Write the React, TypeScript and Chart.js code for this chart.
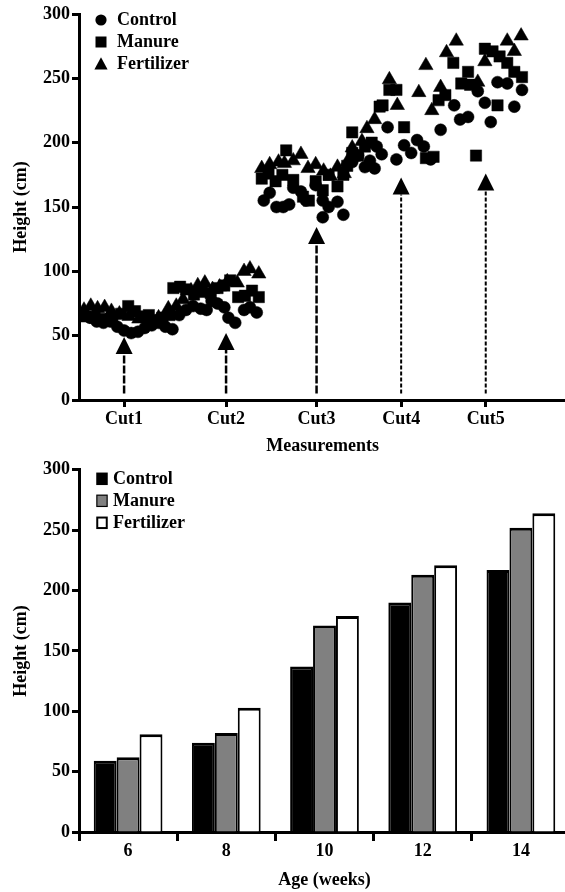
import React, { useEffect, useRef } from 'react';
import { Chart, registerables } from 'chart.js';

Chart.register(...registerables);

const FONT = "'Liberation Serif', 'Times New Roman', serif";

// ---------- Top chart data ----------
const cutLabels = ['Cut1', 'Cut2', 'Cut3', 'Cut4', 'Cut5'];
const cutPositions = [15.3, 49.9, 80.6, 109.3, 138];
const arrowTips = [49, 52, 134.5, 173, 176];
const arrowStart = 5;

const controlX = [
  1.7, 3.7, 6.0, 8.3, 10.7, 13.0, 15.3, 17.7, 20.0, 22.3, 24.7, 27.0, 29.3, 31.7,
  34.0, 36.3, 38.7, 41.3, 43.3, 45.0, 47.0, 49.3, 50.7, 53.0, 56.0, 58.0, 60.3,
  62.7, 64.7, 67.0, 69.3, 71.3, 72.7, 75.3, 77.0, 80.3, 82.7, 82.7, 84.7, 87.7, 89.7,
  92.7, 94.7, 97.0, 98.7, 100.3, 101.0, 102.7, 104.7, 107.7, 110.3, 112.7, 114.7, 117.0, 119.3, 122.7,
  127.3, 129.3, 132.0, 135.3, 137.7, 139.7, 142.0, 145.3, 147.7, 150.3,
];
const controlY = [
  66, 64, 61, 60, 61, 57, 54, 52, 53, 56, 58, 60, 57, 55,
  66, 70, 73, 71, 70, 77, 75, 72, 64, 60, 70, 72, 68,
  155, 161, 150, 150, 152, 165, 162, 155, 167, 142, 155, 150, 154, 144,
  185, 190, 181, 186, 180, 197, 191, 212, 187, 198, 192, 202, 197, 187, 210,
  229, 218, 220, 240, 231, 216, 247, 246, 228, 241,
];

const manureX = [
  2.3, 5.3, 8.3, 11.3, 14.3, 16.7, 19.0, 21.3, 23.7, 26.0, 28.3, 30.7,
  32.0, 34.3, 36.3, 39.0, 41.7, 44.7, 47.0, 49.3, 51.3, 54.0, 56.3, 58.7, 61.0,
  62.0, 64.3, 66.7, 69.0, 70.3, 72.7, 76.0, 78.0, 80.3, 82.7, 84.7, 87.7, 89.7,
  91.0, 92.7, 92.7, 94.7, 97.0, 99.3, 102.0, 103.0, 105.3, 107.7, 110.3, 117.7, 120.3, 122.0, 124.3,
  127.0, 129.7, 132.0, 132.7, 134.7, 137.7, 140.3, 142.0, 142.7, 145.3, 147.7, 150.3,
];
const manureY = [
  65, 64, 63, 65, 67, 73, 69, 65, 66, 62, 64, 66,
  87, 88, 86, 82, 84, 83, 87, 89, 93, 80, 81, 85, 80,
  172, 176, 170, 175, 194, 171, 158, 155, 170, 163, 175, 166, 175,
  182, 192, 208, 190, 197, 200, 228, 229, 241, 241, 212, 188, 189, 233, 237,
  262, 246, 255, 245, 190, 273, 271, 229, 267, 262, 255, 251,
];

const fertilizerX = [
  1.7, 4.0, 6.3, 8.7, 11.0, 13.7, 17.0, 20.3, 23.7, 27.0, 30.3,
  33.0, 35.3, 38.0, 40.3, 42.7, 45.3, 47.7, 50.3, 53.7, 56.0, 58.0, 61.0,
  62.0, 64.7, 67.7, 69.7, 72.7, 75.3, 77.7, 80.3, 83.0, 85.3, 87.7, 90.0,
  91.0, 92.7, 96.0, 97.7, 100.3, 105.3, 108.0, 115.3, 117.7, 119.7, 122.7, 124.7,
  128.0, 135.3, 137.7, 145.3, 147.7, 150.0,
];
const fertilizerY = [
  70, 73, 71, 72, 69, 67, 65, 63, 62, 64, 71,
  73, 78, 85, 89, 91, 86, 88, 92, 91, 100, 102, 98,
  180, 183, 185, 184, 186, 191, 180, 183, 178, 174, 181, 176,
  185, 196, 201, 211, 218, 249, 229, 239, 260, 225, 243, 270,
  279, 247, 263, 279, 271, 283,
];

// ---------- Bottom chart data ----------
const ages = ['6', '8', '10', '12', '14'];
const controlBars = [59, 74, 137, 190, 217];
const manureBars = [62, 82, 171, 213, 252];
const fertilizerBars = [81, 103, 179, 221, 264];

const yTicks = { min: 0, max: 300, step: 50 };

const zip = (xs: number[], ys: number[]) => xs.map((x, i) => ({ x, y: ys[i] }));

const font = { family: FONT, size: 18, weight: 'bold' as const };

const arrowPlugin = {
  id: 'cutArrows',
  afterDatasetsDraw(chart: any) {
    const { ctx, scales } = chart;
    const xs = scales.x;
    const ys = scales.y;
    ctx.save();
    ctx.strokeStyle = '#000';
    ctx.fillStyle = '#000';
    cutPositions.forEach((c, i) => {
      const px = xs.getPixelForValue(c);
      const tip = ys.getPixelForValue(arrowTips[i]);
      const start = ys.getPixelForValue(arrowStart);
      const headH = 17;
      const headW = 17;
      ctx.lineWidth = i < 3 ? 2.5 : 2;
      ctx.setLineDash(i < 3 ? [8, 2] : [4, 2]);
      ctx.beginPath();
      ctx.moveTo(px, start);
      ctx.lineTo(px, tip + headH);
      ctx.stroke();
      ctx.setLineDash([]);
      ctx.beginPath();
      ctx.moveTo(px, tip);
      ctx.lineTo(px - headW / 2, tip + headH);
      ctx.lineTo(px + headW / 2, tip + headH);
      ctx.closePath();
      ctx.fill();
    });
    ctx.restore();
  },
};

const legendPlugin = {
  id: 'manualLegend',
  afterDraw(chart: any, _args: any, opts: any) {
    if (!opts || !opts.kind) return;
    const { ctx, chartArea } = chart;
    ctx.save();
    ctx.font = `bold 18px ${FONT}`;
    ctx.textBaseline = 'middle';
    ctx.textAlign = 'left';
    chart.data.datasets.forEach((ds: any, i: number) => {
      const cy = chartArea.top + opts.top + i * opts.gap;
      const cx = chartArea.left + opts.left;
      ctx.fillStyle = '#000';
      ctx.strokeStyle = '#000';
      if (opts.kind === 'points') {
        const st = ds.pointStyle;
        ctx.beginPath();
        if (st === 'circle') {
          ctx.arc(cx, cy, 5.6, 0, Math.PI * 2);
        } else if (st === 'rect') {
          ctx.rect(cx - 5.5, cy - 5.5, 11, 11);
        } else {
          ctx.moveTo(cx, cy - 6.8);
          ctx.lineTo(cx - 6.6, cy + 5.4);
          ctx.lineTo(cx + 6.6, cy + 5.4);
          ctx.closePath();
        }
        ctx.fill();
      } else {
        const w = 11.5;
        const h = 12.5;
        ctx.fillStyle = '#000';
        ctx.fillRect(cx - w / 2, cy - h / 2, w, h);
        const inset = i === 0 ? 0 : i === 1 ? 1.2 : 2;
        if (inset > 0) {
          ctx.fillStyle = ds.backgroundColor;
          ctx.fillRect(cx - w / 2 + inset, cy - h / 2 + inset, w - 2 * inset, h - 2 * inset);
        }
      }
      ctx.fillStyle = '#000';
      ctx.fillText(ds.label, chartArea.left + opts.textLeft, cy + 0.5);
    });
    ctx.restore();
  },
};

const yAxis = (title: string) => ({
  type: 'linear' as const,
  min: yTicks.min,
  max: yTicks.max,
  ticks: { stepSize: yTicks.step, font, color: '#000', padding: 2 },
  grid: { drawOnChartArea: false, drawTicks: true, tickLength: 7, tickWidth: 3, color: '#000' },
  border: { display: true, color: '#000', width: 3 },
  title: { display: true, text: title, font, color: '#000', padding: { top: 11, bottom: 0 } },
  afterFit: (axis: any) => {
    axis.width = 79;
  },
});

export default function App() {
  const topRef = useRef<HTMLCanvasElement>(null);
  const botRef = useRef<HTMLCanvasElement>(null);

  useEffect(() => {
    document.body.style.margin = '0';
    const pointDs = (label: string, xs: number[], ys: number[], style: string, r: number) => ({
      label,
      data: zip(xs, ys),
      pointStyle: style,
      pointRadius: r,
      pointHoverRadius: r,
      pointBackgroundColor: '#000',
      pointBorderColor: '#000',
      pointBorderWidth: 0.5,
      showLine: false,
    });

    const top = new Chart(topRef.current as HTMLCanvasElement, {
      type: 'scatter',
      data: {
        datasets: [
          pointDs('Control', controlX, controlY, 'circle', 6),
          pointDs('Manure', manureX, manureY, 'rect', 8),
          pointDs('Fertilizer', fertilizerX, fertilizerY, 'triangle', 8.3),
        ] as any,
      },
      options: {
        responsive: false,
        animation: false,
        devicePixelRatio: 1,
        layout: { padding: { top: 14, left: 0, right: 0, bottom: 0 } },
        plugins: {
          legend: { display: false },
          tooltip: { enabled: false },
          manualLegend: { kind: 'points', left: 22, top: 6, gap: 22, textLeft: 38 },
        } as any,
        scales: {
          x: {
            type: 'linear',
            min: 0,
            max: 165.3,
            afterBuildTicks: (axis: any) => {
              axis.ticks = cutPositions.map((v) => ({ value: v }));
            },
            ticks: {
              callback: (_v: any, i: number) => cutLabels[i],
              font,
              color: '#000',
              padding: 2,
              maxRotation: 0,
              autoSkip: false,
            },
            grid: { drawOnChartArea: false, drawTicks: true, tickLength: 7, tickWidth: 3, color: '#000' },
            border: { display: true, color: '#000', width: 3 },
            title: { display: true, text: 'Measurements', font, color: '#000', padding: { top: 0, bottom: 0 } },
            afterFit: (axis: any) => {
              axis.height = 57;
            },
          },
          y: yAxis('Height (cm)'),
        } as any,
      },
      plugins: [arrowPlugin, legendPlugin],
    });

    const barDs = (label: string, data: number[], color: string) => ({
      label,
      data,
      backgroundColor: color,
      borderColor: '#000',
      borderWidth: { top: 3, left: 2, right: 2, bottom: 0 },
      categoryPercentage: 0.7,
      barPercentage: 1.0,
    });

    const bottom = new Chart(botRef.current as HTMLCanvasElement, {
      type: 'bar',
      data: {
        labels: ages,
        datasets: [
          barDs('Control', controlBars, '#000000'),
          barDs('Manure', manureBars, '#808080'),
          barDs('Fertilizer', fertilizerBars, '#ffffff'),
        ] as any,
      },
      options: {
        responsive: false,
        animation: false,
        devicePixelRatio: 1,
        layout: { padding: { top: 11, left: 0, right: 0, bottom: 0 } },
        plugins: {
          legend: { display: false },
          tooltip: { enabled: false },
          manualLegend: { kind: 'boxes', left: 23, top: 9, gap: 22, textLeft: 34 },
        } as any,
        scales: {
          x: {
            ticks: { font, color: '#000', padding: 0, maxRotation: 0, autoSkip: false },
            grid: { offset: true, drawOnChartArea: false, drawTicks: true, tickLength: 9, tickWidth: 3, color: '#000' },
            border: { display: true, color: '#000', width: 3 },
            title: { display: true, text: 'Age (weeks)', font, color: '#000', padding: { top: 0, bottom: 1 } },
            afterFit: (axis: any) => {
              axis.height = 60;
            },
          },
          y: yAxis('Height (cm)'),
        } as any,
      },
      plugins: [legendPlugin],
    });

    return () => {
      top.destroy();
      bottom.destroy();
    };
  }, []);

  return (
    <div style={{ position: 'relative', width: 565, height: 892, overflow: 'hidden', background: '#fff' }}>
      <canvas
        ref={topRef}
        width={575}
        height={457}
        style={{ position: 'absolute', left: 0, top: 0, width: 575, height: 457 }}
      />
      <canvas
        ref={botRef}
        width={570}
        height={435}
        style={{ position: 'absolute', left: 0, top: 457, width: 570, height: 435 }}
      />
    </div>
  );
}
